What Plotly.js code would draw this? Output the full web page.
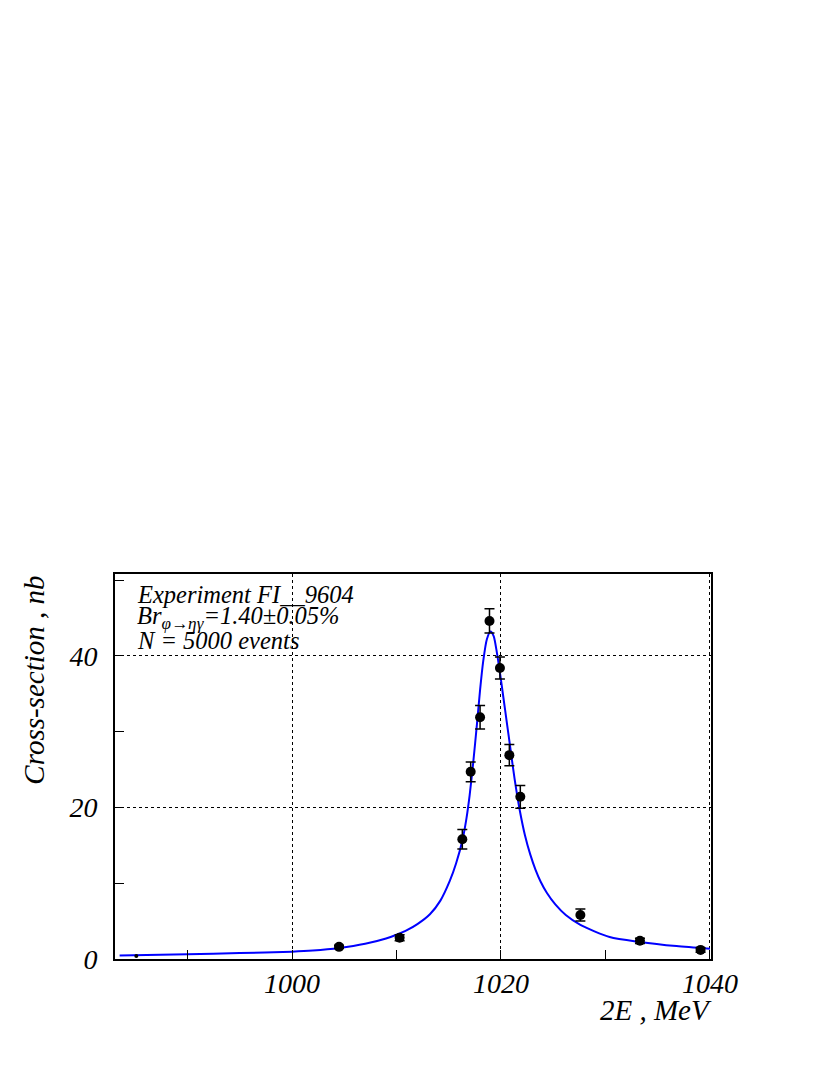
<!DOCTYPE html>
<html>
<head>
<meta charset="utf-8">
<script src="https://cdn.plot.ly/plotly-3.0.1.min.js"></script>
<style>html,body{margin:0;padding:0;background:#fff;}#chart{width:830px;height:1075px;}</style>
</head>
<body>
<div id="chart"></div>
<script>
// Measured points
const energy = [985.1, 1004.5, 1010.3, 1016.3, 1017.1, 1018.0, 1018.9, 1019.9, 1020.8, 1021.85, 1027.6, 1033.3, 1039.1];
const sigma  = [0.4, 1.6, 2.8, 15.8, 24.7, 31.9, 44.6, 38.4, 26.9, 21.4, 5.8, 2.4, 1.2];
const sigmaErr = [0.0, 0.2, 0.4, 1.3, 1.3, 1.55, 1.6, 1.45, 1.4, 1.5, 0.8, 0.35, 0.3];

// Fit curve
const fitE = [983.5, 990, 995, 1000, 1002, 1004.5, 1007, 1009, 1010, 1011, 1012, 1013.2, 1014.2, 1015.1, 1015.7, 1016.3, 1016.7, 1017.0, 1017.35, 1017.7, 1018.0, 1018.3, 1018.65, 1019.0, 1019.3, 1019.6, 1019.9, 1020.2, 1020.6, 1020.9, 1021.3, 1021.8, 1022.3, 1022.8, 1023.3, 1023.8, 1024.4, 1025.2, 1026.2, 1027.6, 1030.4, 1033.3, 1036.8, 1040];
const fitS = [0.45, 0.62, 0.78, 0.97, 1.12, 1.45, 2.0, 2.7, 3.2, 3.8, 4.6, 5.9, 7.7, 10.3, 12.6, 15.6, 18.6, 21.6, 26.0, 31.0, 35.5, 39.3, 42.2, 43.2, 42.6, 40.5, 37.8, 34.8, 30.8, 27.8, 23.8, 19.6, 16.3, 13.8, 11.8, 10.2, 8.7, 7.2, 5.8, 4.5, 2.9, 2.25, 1.7, 1.35];

const xTicks = [1000, 1020, 1040];
const yTicks = [0, 20, 40];
const textLines = ["Experiment FI__9604", "Br<sub>φ→ηγ</sub>=1.40±0.05%", "N = 5000 events"];
const xTitle = "2E , MeV";
const yTitle = "Cross-section , nb";

const serif = "Liberation Serif, Times New Roman, serif";

const traces = [
  {
    x: fitE, y: fitS, type: 'scatter', mode: 'lines',
    line: {color: '#0000ff', width: 2, shape: 'spline', smoothing: 0.7},
    hoverinfo: 'skip'
  },
  {
    x: energy.slice(0, 1), y: sigma.slice(0, 1), type: 'scatter', mode: 'markers',
    marker: {color: '#000', size: 4}
  },
  {
    x: energy.slice(1), y: sigma.slice(1), type: 'scatter', mode: 'markers',
    marker: {color: '#000', size: 10},
    error_y: {type: 'data', array: sigmaErr.slice(1), visible: true, color: '#000', thickness: 1.5, width: 5}
  }
];

const annotations = textLines.map((t, i) => ({
  text: t, xref: 'paper', yref: 'paper',
  x: 0.033, y: [0.946, 0.888, 0.827][i],
  xanchor: 'left', yanchor: 'middle', showarrow: false,
  font: {family: serif, size: 24.5, color: '#000', style: 'italic'}
}));
annotations.push({
  text: xTitle, xref: 'paper', yref: 'paper', x: 1.005, y: -0.132,
  xanchor: 'right', yanchor: 'middle', showarrow: false,
  font: {family: serif, size: 29, color: '#000', style: 'italic'}
});
annotations.push({
  text: yTitle, xref: 'paper', yref: 'paper', x: -0.136, y: 1.002,
  xanchor: 'center', yanchor: 'top', showarrow: false, textangle: -90,
  font: {family: serif, size: 29, color: '#000', style: 'italic'}
});

const layout = {
  width: 830, height: 1075,
  margin: {l: 115, r: 119, t: 574, b: 116, pad: 0},
  paper_bgcolor: '#fff', plot_bgcolor: '#fff',
  showlegend: false,
  xaxis: {
    range: [983.06, 1040.1], tickvals: xTicks, ticktext: xTicks.map(String),
    ticks: 'inside', ticklen: 9, tickwidth: 1, tickcolor: '#000',
    showline: true, linecolor: '#000', linewidth: 2, mirror: true,
    showgrid: true, gridcolor: '#000', gridwidth: 1, griddash: 'dot',
    zeroline: false, ticklabelstandoff: -2,
    minor: {tickvals: [990, 1010, 1030], ticks: 'inside', ticklen: 9, tickcolor: '#000', showgrid: false},
    tickfont: {family: serif, size: 28, color: '#000', style: 'italic'}
  },
  yaxis: {
    range: [0, 50.8], tickvals: yTicks, ticktext: yTicks.map(String),
    ticks: 'inside', ticklen: 9, tickwidth: 1, tickcolor: '#000',
    showline: true, linecolor: '#000', linewidth: 2, mirror: true,
    showgrid: true, gridcolor: '#000', gridwidth: 1, griddash: 'dot',
    zeroline: false, ticklabelstandoff: 10,
    minor: {tickvals: [10, 30, 50], ticks: 'inside', ticklen: 9, tickcolor: '#000', showgrid: false},
    tickfont: {family: serif, size: 28, color: '#000', style: 'italic'}
  },
  annotations: annotations
};

Plotly.newPlot('chart', traces, layout, {staticPlot: true});
</script>
</body>
</html>
